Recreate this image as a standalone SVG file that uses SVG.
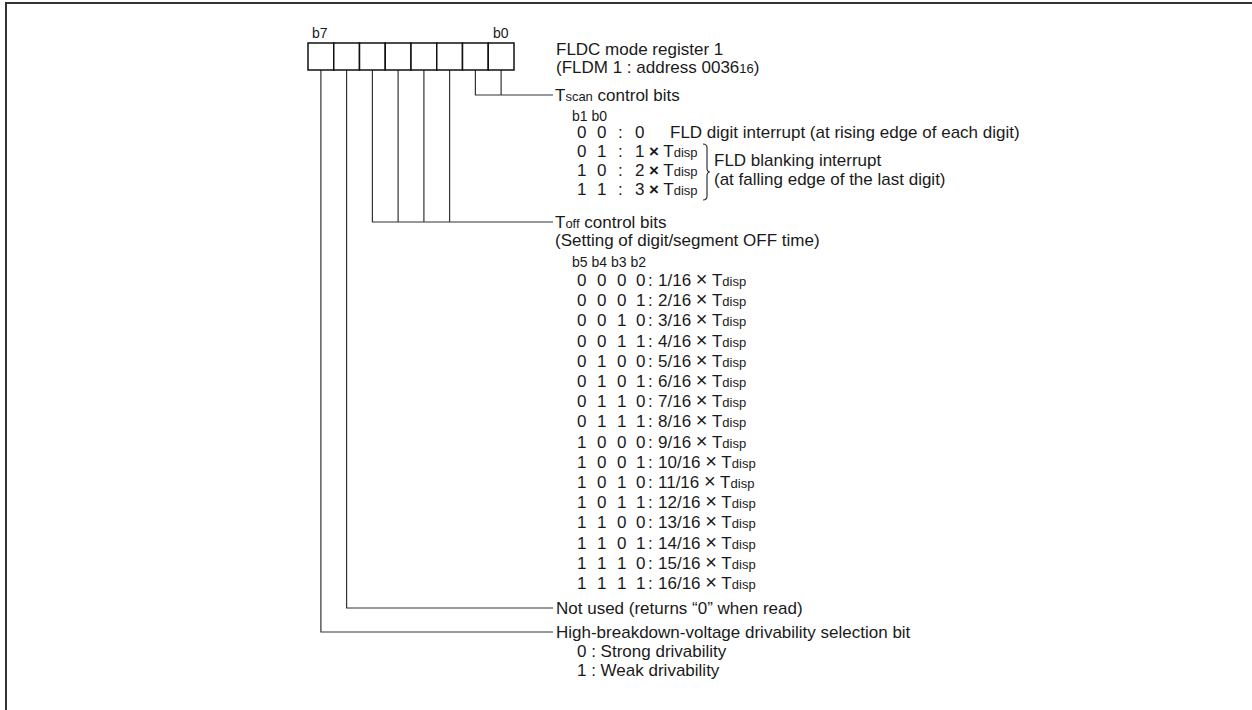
<svg xmlns="http://www.w3.org/2000/svg" width="1252" height="710" viewBox="0 0 1252 710">
<style>
text{font-family:"Liberation Sans",Arial,Helvetica,sans-serif;font-size:17px;fill:#1a1a1a}
.s{font-size:14px}
.sub{font-size:13px}
.x{font-size:20px}
.xs{font-size:17px;font-weight:bold}
.ln{fill:none;stroke:#333;stroke-width:1.2}
.frame{fill:none;stroke:#333;stroke-width:2}
.cell{fill:#fff;stroke:#111;stroke-width:1.5}
</style>
<rect x="0" y="0" width="1252" height="710" fill="#fff"/>
<path class="frame" d="M6,710 V3 H1252"/>

<g id="connectors">
  <path class="ln" d="M475.4,70 V95 H553 M501.1,70 V95"/>
  <path class="ln" d="M372.4,70 V222 H553 M398.1,70 V222 M423.9,70 V222 M449.6,70 V222"/>
  <path class="ln" d="M346.6,70 V608 H553"/>
  <path class="ln" d="M320.9,70 V632 H553"/>
</g>

<g id="register">
  <text class="s" x="312" y="38">b7</text>
  <text class="s" x="493" y="38">b0</text>
  <rect class="cell" x="308" y="43" width="25.75" height="27"/>
  <rect class="cell" x="333.75" y="43" width="25.75" height="27"/>
  <rect class="cell" x="359.5" y="43" width="25.75" height="27"/>
  <rect class="cell" x="385.25" y="43" width="25.75" height="27"/>
  <rect class="cell" x="411" y="43" width="25.75" height="27"/>
  <rect class="cell" x="436.75" y="43" width="25.75" height="27"/>
  <rect class="cell" x="462.5" y="43" width="25.75" height="27"/>
  <rect class="cell" x="488.25" y="43" width="25.75" height="27"/>
</g>

<g id="title">
  <text x="556" y="55">FLDC mode register 1</text>
  <text x="556" y="73">(FLDM 1 : address 0036<tspan class="sub" font-size="12">16</tspan>)</text>
</g>

<g id="tscan">
  <text x="555" y="101">T<tspan class="sub">scan</tspan> control bits</text>
  <text class="s" x="572" y="121">b1 b0</text>
  <text y="138"><tspan x="577">0</tspan><tspan x="597">0</tspan><tspan x="618">:</tspan><tspan x="635">0</tspan><tspan x="670">FLD digit interrupt (at rising edge of each digit)</tspan></text>
  <text y="157"><tspan x="577">0</tspan><tspan x="597">1</tspan><tspan x="618">:</tspan><tspan x="635">1</tspan><tspan x="649" class="xs">×</tspan> T<tspan class="sub">disp</tspan></text>
  <text y="176"><tspan x="577">1</tspan><tspan x="597">0</tspan><tspan x="618">:</tspan><tspan x="635">2</tspan><tspan x="649" class="xs">×</tspan> T<tspan class="sub">disp</tspan></text>
  <text y="195"><tspan x="577">1</tspan><tspan x="597">1</tspan><tspan x="618">:</tspan><tspan x="635">3</tspan><tspan x="649" class="xs">×</tspan> T<tspan class="sub">disp</tspan></text>
  <path class="ln" stroke-width="1" d="M703,144 Q707,144 707,148 V168 Q707,172 710,172 Q707,172 707,176 V196 Q707,200 703,200"/>
  <text x="714" y="166">FLD blanking interrupt</text>
  <text x="714" y="185">(at falling edge of the last digit)</text>
</g>

<g id="toff">
  <text x="555" y="228">T<tspan class="sub">off</tspan> control bits</text>
  <text x="555" y="246">(Setting of digit/segment OFF time)</text>
  <text class="s" x="572" y="267">b5 b4 b3 b2</text>
  <text y="286"><tspan x="577">0</tspan><tspan x="597">0</tspan><tspan x="617">0</tspan><tspan x="636">0</tspan><tspan x="648">:</tspan><tspan x="658">1/16 </tspan><tspan class="x">×</tspan> T<tspan class="sub">disp</tspan></text>
  <text y="306.2"><tspan x="577">0</tspan><tspan x="597">0</tspan><tspan x="617">0</tspan><tspan x="636">1</tspan><tspan x="648">:</tspan><tspan x="658">2/16 </tspan><tspan class="x">×</tspan> T<tspan class="sub">disp</tspan></text>
  <text y="326.4"><tspan x="577">0</tspan><tspan x="597">0</tspan><tspan x="617">1</tspan><tspan x="636">0</tspan><tspan x="648">:</tspan><tspan x="658">3/16 </tspan><tspan class="x">×</tspan> T<tspan class="sub">disp</tspan></text>
  <text y="346.6"><tspan x="577">0</tspan><tspan x="597">0</tspan><tspan x="617">1</tspan><tspan x="636">1</tspan><tspan x="648">:</tspan><tspan x="658">4/16 </tspan><tspan class="x">×</tspan> T<tspan class="sub">disp</tspan></text>
  <text y="366.8"><tspan x="577">0</tspan><tspan x="597">1</tspan><tspan x="617">0</tspan><tspan x="636">0</tspan><tspan x="648">:</tspan><tspan x="658">5/16 </tspan><tspan class="x">×</tspan> T<tspan class="sub">disp</tspan></text>
  <text y="387"><tspan x="577">0</tspan><tspan x="597">1</tspan><tspan x="617">0</tspan><tspan x="636">1</tspan><tspan x="648">:</tspan><tspan x="658">6/16 </tspan><tspan class="x">×</tspan> T<tspan class="sub">disp</tspan></text>
  <text y="407.2"><tspan x="577">0</tspan><tspan x="597">1</tspan><tspan x="617">1</tspan><tspan x="636">0</tspan><tspan x="648">:</tspan><tspan x="658">7/16 </tspan><tspan class="x">×</tspan> T<tspan class="sub">disp</tspan></text>
  <text y="427.4"><tspan x="577">0</tspan><tspan x="597">1</tspan><tspan x="617">1</tspan><tspan x="636">1</tspan><tspan x="648">:</tspan><tspan x="658">8/16 </tspan><tspan class="x">×</tspan> T<tspan class="sub">disp</tspan></text>
  <text y="447.6"><tspan x="577">1</tspan><tspan x="597">0</tspan><tspan x="617">0</tspan><tspan x="636">0</tspan><tspan x="648">:</tspan><tspan x="658">9/16 </tspan><tspan class="x">×</tspan> T<tspan class="sub">disp</tspan></text>
  <text y="467.8"><tspan x="577">1</tspan><tspan x="597">0</tspan><tspan x="617">0</tspan><tspan x="636">1</tspan><tspan x="648">:</tspan><tspan x="658">10/16 </tspan><tspan class="x">×</tspan> T<tspan class="sub">disp</tspan></text>
  <text y="488"><tspan x="577">1</tspan><tspan x="597">0</tspan><tspan x="617">1</tspan><tspan x="636">0</tspan><tspan x="648">:</tspan><tspan x="658">11/16 </tspan><tspan class="x">×</tspan> T<tspan class="sub">disp</tspan></text>
  <text y="508.2"><tspan x="577">1</tspan><tspan x="597">0</tspan><tspan x="617">1</tspan><tspan x="636">1</tspan><tspan x="648">:</tspan><tspan x="658">12/16 </tspan><tspan class="x">×</tspan> T<tspan class="sub">disp</tspan></text>
  <text y="528.4"><tspan x="577">1</tspan><tspan x="597">1</tspan><tspan x="617">0</tspan><tspan x="636">0</tspan><tspan x="648">:</tspan><tspan x="658">13/16 </tspan><tspan class="x">×</tspan> T<tspan class="sub">disp</tspan></text>
  <text y="548.6"><tspan x="577">1</tspan><tspan x="597">1</tspan><tspan x="617">0</tspan><tspan x="636">1</tspan><tspan x="648">:</tspan><tspan x="658">14/16 </tspan><tspan class="x">×</tspan> T<tspan class="sub">disp</tspan></text>
  <text y="568.8"><tspan x="577">1</tspan><tspan x="597">1</tspan><tspan x="617">1</tspan><tspan x="636">0</tspan><tspan x="648">:</tspan><tspan x="658">15/16 </tspan><tspan class="x">×</tspan> T<tspan class="sub">disp</tspan></text>
  <text y="589"><tspan x="577">1</tspan><tspan x="597">1</tspan><tspan x="617">1</tspan><tspan x="636">1</tspan><tspan x="648">:</tspan><tspan x="658">16/16 </tspan><tspan class="x">×</tspan> T<tspan class="sub">disp</tspan></text>
</g>

<g id="not-used">
  <text x="556" y="614">Not used (returns “0” when read)</text>
</g>

<g id="hbd">
  <text x="556" y="638">High-breakdown-voltage drivability selection bit</text>
  <text x="577" y="657">0 : Strong drivability</text>
  <text x="577" y="676">1 : Weak drivability</text>
</g>
</svg>
